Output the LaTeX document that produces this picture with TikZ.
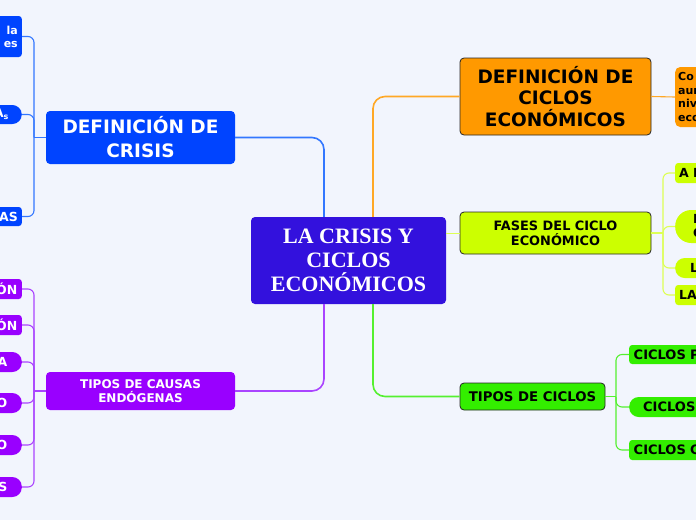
\documentclass[tikz,border=0pt]{standalone}
\usepackage{fontspec}
\setmainfont{DejaVu Sans}
\newfontfamily\serifbold{Liberation Serif}
\newcommand{\myfs}[2]{\fontsize{#1}{#2}\selectfont}
\definecolor{bg}{HTML}{F2F5FD}
\definecolor{cCentral}{HTML}{3311DD}
\definecolor{cBlue}{HTML}{0044FF}
\definecolor{cPurple}{HTML}{9900FF}
\definecolor{cOrange}{HTML}{FF9900}
\definecolor{cYellow}{HTML}{CCFF00}
\definecolor{cGreen}{HTML}{33EE00}
\definecolor{lBlue}{HTML}{3377FF}
\definecolor{lPurple}{HTML}{AA44FF}
\definecolor{lOrange}{HTML}{FFA826}
\definecolor{lYellow}{HTML}{DDFF55}
\definecolor{lGreen}{HTML}{55F030}
\begin{document}
\begin{tikzpicture}[x=1pt,y=-1pt,
  box/.style={inner sep=0pt, align=center, rounded corners=4pt},
  dark/.style={draw=black!85, line width=0.8pt},
  lchild/.style={anchor=east, text width=70pt, align=right, inner ysep=0pt, text=white, font=\bfseries\myfs{12.5}{14}},
  rchild/.style={anchor=west, text width=80pt, align=left, inner ysep=0pt, text=black, font=\bfseries\myfs{12.5}{14}},
  rectc/.style={rounded corners=3pt},
  pillc/.style={rounded corners=9.5pt},
  mainline/.style={line width=1.6pt, rounded corners=12pt},
  subline/.style={line width=1.1pt, rounded corners=6pt}
]
\useasboundingbox (0,0) rectangle (696,520);
\fill[bg] (0,0) rectangle (696,520);

% main nodes
\node[box, fill=cCentral, minimum width=195pt, minimum height=87pt, text=white,
  font=\serifbold\bfseries\myfs{22}{23.8}] (c) at (348.5,260.5) {LA CRISIS Y\\CICLOS\\ECONÓMICOS};
\node[box, fill=cBlue, minimum width=189pt, minimum height=53pt, text=white,
  font=\bfseries\myfs{18.5}{24}] (dc) at (140.5,137.5) {DEFINICIÓN DE\\CRISIS};
\node[box, fill=cPurple, minimum width=189pt, minimum height=38pt, text=white,
  font=\bfseries\myfs{12}{13.5}] (tc) at (140.5,391) {TIPOS DE CAUSAS\\ENDÓGENAS};
\node[box, dark, fill=cOrange, minimum width=191pt, minimum height=77pt, text=black,
  font=\bfseries\myfs{18.5}{21.5}] (dce) at (555.5,96.5) {DEFINICIÓN DE\\CICLOS\\ECONÓMICOS};
\node[box, dark, fill=cYellow, minimum width=191pt, minimum height=42pt, text=black,
  font=\bfseries\myfs{12.9}{15}] (fc) at (555.5,233) {FASES DEL CICLO\\ECONÓMICO};
\node[box, dark, fill=cGreen, minimum width=145pt, minimum height=27pt, text=black,
  font=\bfseries\myfs{13.3}{15}] (tci) at (532.5,396.5) {TIPOS DE CICLOS};

% main connectors
\draw[mainline, lBlue] (c.north -| 324,0) |- (dc.east);
\draw[mainline, lOrange] (c.north -| 373,0) |- (dce.west);
\draw[mainline, lPurple] (c.south -| 324,0) |- (tc.east);
\draw[mainline, lGreen] (c.south -| 373,0) |- (tci.west);
\draw[line width=1pt, lYellow] (c.east |- fc.west) -- (fc.west);

% left blue children
\node[lchild, fill=cBlue, rectc, minimum height=41pt, inner xsep=4pt, font=\bfseries\myfs{11}{13}] (b1) at (22,36.5) {la\\es\hspace{3pt}};
\node[lchild, fill=cBlue, pillc, minimum height=19pt, inner xsep=13pt, font=\bfseries\myfs{12}{14}] (b2) at (22,114.5) {A\textsubscript{s}};
\node[lchild, fill=cBlue, rectc, minimum height=19pt, inner xsep=4pt] (b3) at (22,216.5) {AS};
\coordinate (jb) at (34,137.5);
\draw[subline, lBlue, rounded corners=0pt] (dc.west) -- (jb);
\foreach \n in {b1,b2,b3} \draw[subline, lBlue] (jb) |- (\n.east);

% left purple children
\node[lchild, fill=cPurple, rectc, minimum height=20pt, inner xsep=4.5pt] (p1) at (22,289) {ÓN};
\node[lchild, fill=cPurple, rectc, minimum height=20pt, inner xsep=4.5pt] (p2) at (22,325) {ÓN};
\node[lchild, fill=cPurple, pillc, minimum height=20pt, inner xsep=14.5pt] (p3) at (22,362) {A};
\node[lchild, fill=cPurple, pillc, minimum height=20pt, inner xsep=14.5pt] (p4) at (22,403) {O};
\node[lchild, fill=cPurple, pillc, minimum height=20pt, inner xsep=14.5pt] (p5) at (22,445) {O};
\node[lchild, fill=cPurple, pillc, minimum height=20pt, inner xsep=14.5pt] (p6) at (22,487) {S};
\coordinate (jp) at (34,391);
\draw[subline, lPurple, rounded corners=0pt] (tc.west) -- (jp);
\foreach \n in {p1,p2,p3,p4,p5,p6} \draw[subline, lPurple] (jp) |- (\n.east);

% right orange child
\node[rchild, fill=cOrange, rounded corners=5pt, minimum height=60pt, inner xsep=3pt, font=\bfseries\myfs{11}{13.5}] (o1) at (675,97) {Co\\aur\\niv\\eco};
\draw[subline, lOrange] (dce.east) -- (o1.west);

% right yellow children
\node[rchild, fill=cYellow, rectc, minimum height=20pt, inner xsep=4pt] (y1) at (675,173) {A I};
\node[rchild, fill=cYellow, rounded corners=16pt, minimum height=33pt, inner xsep=18pt] (y2) at (675,226.5) {L\\C};
\node[rchild, fill=cYellow, pillc, minimum height=20pt, inner xsep=15pt] (y3) at (675,268) {L};
\node[rchild, fill=cYellow, rectc, minimum height=20pt, inner xsep=4pt] (y4) at (675,295) {LA};
\coordinate (jy) at (663,233);
\draw[subline, lYellow, rounded corners=0pt] (fc.east) -- (jy);
\foreach \n in {y1,y2,y3,y4} \draw[subline, lYellow] (jy) |- (\n.west);

% right green children
\node[rchild, fill=cGreen, rectc, minimum height=19pt, inner xsep=4.5pt, font=\bfseries\myfs{13}{15}] (g1) at (629,354.5) {CICLOS P};
\node[rchild, fill=cGreen, pillc, minimum height=20pt, inner xsep=14pt, font=\bfseries\myfs{13}{15}] (g2) at (629,407) {CICLOS};
\node[rchild, fill=cGreen, rectc, minimum height=20pt, inner xsep=4.5pt, font=\bfseries\myfs{13}{15}] (g3) at (629,450) {CICLOS C};
\coordinate (jg) at (616,396.5);
\draw[subline, lGreen, rounded corners=0pt] (tci.east) -- (jg);
\foreach \n in {g1,g2,g3} \draw[subline, lGreen] (jg) |- (\n.west);
\end{tikzpicture}
\end{document}
